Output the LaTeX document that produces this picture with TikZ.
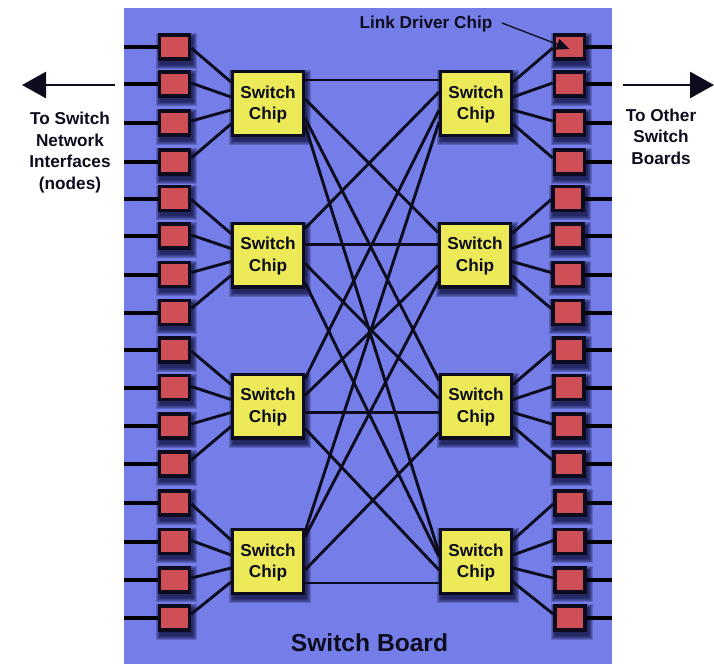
\documentclass[tikz,border=0pt]{standalone}
\usepackage{fontspec}
\setmainfont{Liberation Sans}
\usetikzlibrary{arrows.meta}
\definecolor{boardblue}{HTML}{747DE8}
\definecolor{drvred}{HTML}{CF4F57}
\definecolor{chipyellow}{HTML}{ECEA58}
\definecolor{inkdark}{HTML}{0C0C1E}
\pgfdeclarelayer{boardlayer}
\pgfdeclarelayer{shadowlayer}
\pgfsetlayers{boardlayer,shadowlayer,main}
\newcommand{\chiptext}{\rule{0pt}{14.8pt}Switch\\Chip}
\tikzset{
  shadowpiece/.style={fill=black!85!blue,opacity=.2,draw=none},
  board/.style={draw=none,fill=boardblue,inner sep=0pt,outer sep=0pt,minimum width=488pt,minimum height=656pt},
  driver/.style={rectangle,draw=inkdark,line width=3.6pt,fill=drvred,minimum width=30pt,minimum height=24pt,inner sep=0pt},
  chip/.style={rectangle,draw=inkdark,line width=3.4pt,fill=chipyellow,minimum width=70.6pt,minimum height=63.6pt,inner sep=0pt,
     align=center,font=\fontsize{17.2}{21.5}\selectfont\bfseries,text=inkdark},
  link/.style={draw=inkdark,line width=2.9pt},
  stub/.style={draw=black,line width=4pt},
  bigarrow/.style={draw=inkdark,line width=2.8pt,-{Triangle[length=24pt,width=26pt]}},
  caption/.style={align=center,font=\fontsize{17.2}{21.5}\selectfont\bfseries,text=inkdark,inner sep=0pt},
}
\begin{document}
\begin{tikzpicture}[x=1pt,y=-1pt]
\useasboundingbox (0,0) rectangle (714,664);
\begin{pgfonlayer}{boardlayer}
\node[board] (board) at (368,336) {};
\end{pgfonlayer}
% driver chips
\foreach \n/\x/\y in {1/174.5/47,2/174.5/84,3/174.5/123,4/174.5/162,5/174.5/198.5,6/174.5/236,7/174.5/274.5,8/174.5/312.5,9/174.5/350,10/174.5/387.5,11/174.5/426,12/174.5/464,13/174.5/503,14/174.5/541.5,15/174.5/580,16/174.5/618}
  {\node[driver] (A\n) at (\x,\y) {};}
\foreach \n/\x/\y in {1/569.5/47,2/569.5/84,3/569.5/123,4/569.5/162,5/568/198.5,6/568/236,7/568/274.5,8/568/312.5,9/569/350,10/569/387.5,11/569/426,12/569/464,13/570/503,14/570/541.5,15/570/580,16/570/618}
  {\node[driver] (B\n) at (\x,\y) {};}
% switch chips
\node[chip] (L1) at (268,103.5) {\chiptext};
\node[chip] (L2) at (268,255) {\chiptext};
\node[chip] (L3) at (268,406) {\chiptext};
\node[chip] (L4) at (268,561.5) {\chiptext};
\node[chip] (R1) at (476,103.5) {\chiptext};
\node[chip] (R2) at (475,255) {\chiptext};
\node[chip] (R3) at (476,406) {\chiptext};
\node[chip] (R4) at (476,561.5) {\chiptext};
% soft shadows
\begin{pgfonlayer}{shadowlayer}
\foreach \nd in {A1,A2,A3,A4,A5,A6,A7,A8,A9,A10,A11,A12,A13,A14,A15,A16,
                 B1,B2,B3,B4,B5,B6,B7,B8,B9,B10,B11,B12,B13,B14,B15,B16,
                 L1,L2,L3,L4,R1,R2,R3,R4}{
  \foreach \g in {4,3,2,1,0}{
    \fill[shadowpiece] ([xshift=2pt-\g pt,yshift=\g pt-4pt]\nd.north west) rectangle ([xshift=2pt+\g pt,yshift=-4pt-\g pt]\nd.south east);
  }
}
\end{pgfonlayer}
% stubs to the board edges
\foreach \n in {1,...,16}{
  \draw[stub] (A\n.west) -- (A\n.west -| board.west);
  \draw[stub] (B\n.east) -- (B\n.east -| board.east);
}
% fans
\foreach \c/\s/\d/\o in {1/1/-1/12,1/2/1/27,1/3/2/40,1/4/4/54,
                         2/5/-1/12,2/6/1/27,2/7/2/40,2/8/4/54,
                         3/9/-1/12,3/10/1/27,3/11/2/40,3/12/4/54,
                         4/13/-1/12,4/14/1/27,4/15/2/40,4/16/4/54}{
  \draw[link] ([yshift=\d pt]A\s.east) -- ([yshift=-\o pt]L\c.north west);
  \draw[link] ([yshift=\d pt]B\s.west) -- ([yshift=-\o pt]R\c.north east);
}
% crossbar
\foreach \a/\b/\p/\q in {1/1/10/10,1/2/29/11,1/3/48/8,1/4/55/25,
                         2/1/7/22,2/2/23/23,2/3/42/26,2/4/61/29,
                         3/1/6/40,3/2/23/44,3/3/40/40,3/4/56/42,
                         4/1/4/52,4/2/9/60,4/3/42/60,4/4/55/55}{
  \draw[link] ([yshift=-\p pt]L\a.north east) -- ([yshift=-\q pt]R\b.north west);
}
% captions
\node[caption] (nettext) at (70,152.5) {To Switch\\Network\\Interfaces\\(nodes)};
\node[caption] (othertext) at (661,136.5) {To Other\\Switch\\Boards};
\node[caption,font=\fontsize{17.2}{20}\selectfont\bfseries] (ldc) at (426,24.5) {Link Driver Chip};
\node[caption,font=\fontsize{24.6}{28}\selectfont\bfseries] (sb) at (369.5,642.5) {Switch Board};
% arrows
\coordinate (lfrom) at (115,85);
\coordinate (lto) at (22,85);
\coordinate (rfrom) at (623,85);
\coordinate (rto) at (714,85);
\draw[bigarrow] (lfrom) -- (lto);
\draw[bigarrow] (rfrom) -- (rto);
\coordinate (ldcstart) at (502,23);
\draw[draw=inkdark,line width=1.3pt,-{Triangle[length=13pt,width=11pt]}] (ldcstart) -- ([yshift=-2pt]B1.center);
\end{tikzpicture}
\end{document}
